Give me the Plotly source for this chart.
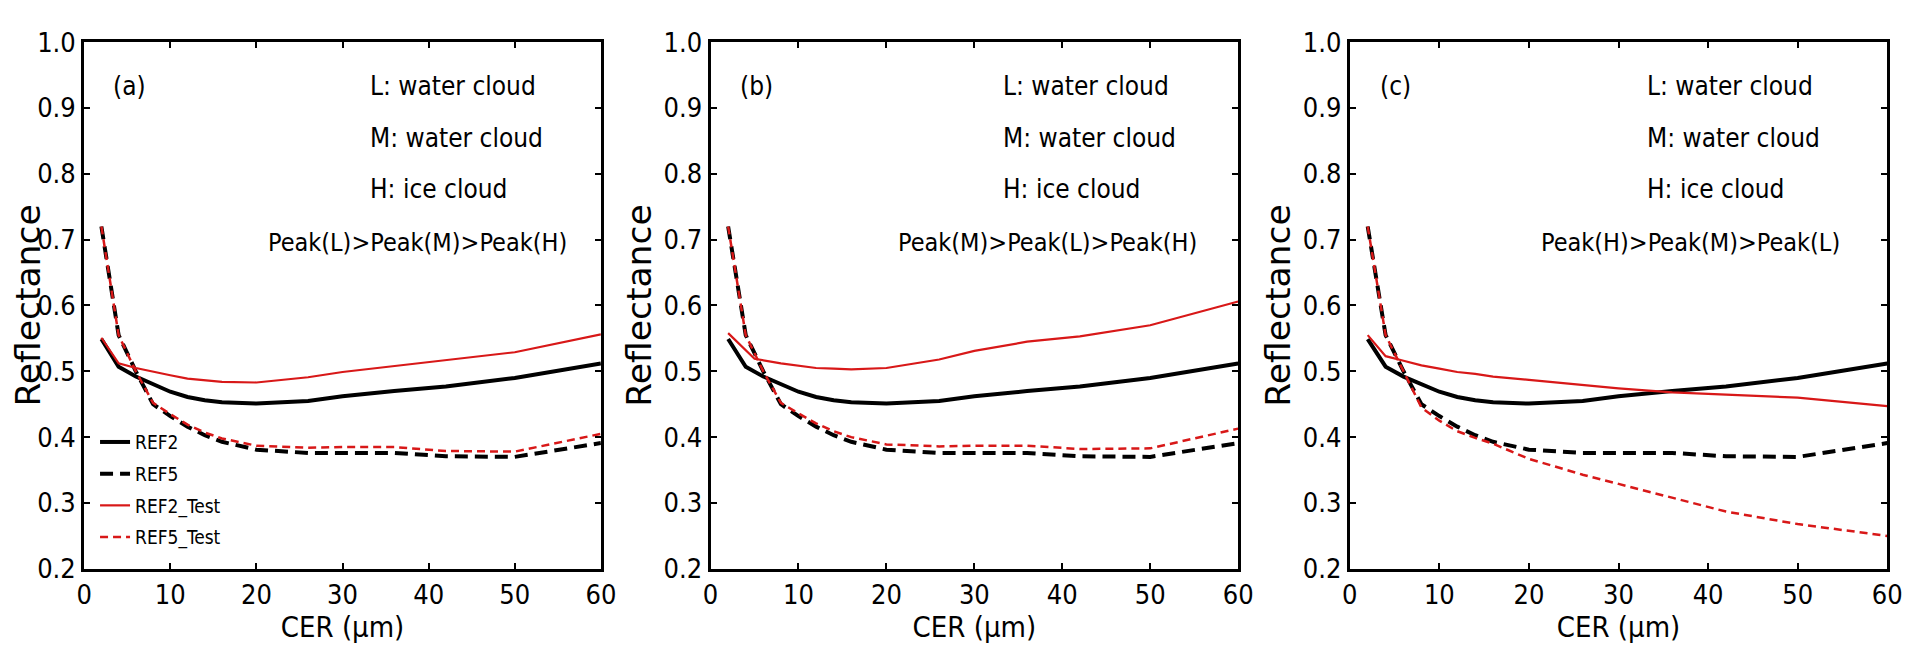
import plotly.graph_objects as go

# ---------------- data ----------------
CER = [2, 4, 6, 8, 10, 12, 14, 16, 20, 26, 30, 36, 42, 50, 60]
CER_B_TEST2 = [2, 5, 8, 10, 12, 14, 16, 20, 26, 30, 36, 42, 50, 60]

REF2 = [0.549, 0.507, 0.492, 0.480, 0.469, 0.461, 0.456, 0.453, 0.451,
        0.455, 0.462, 0.470, 0.477, 0.490, 0.512]
REF5 = [0.720, 0.555, 0.500, 0.450, 0.432, 0.416, 0.403, 0.393, 0.381,
        0.376, 0.376, 0.376, 0.371, 0.370, 0.391]

A_REF2_TEST = [0.551, 0.512, 0.505, 0.499, 0.494, 0.489, 0.486, 0.484, 0.483,
               0.491, 0.499, 0.508, 0.517, 0.529, 0.556]
A_REF5_TEST = [0.720, 0.555, 0.500, 0.452, 0.435, 0.419, 0.407, 0.398, 0.387,
               0.384, 0.385, 0.385, 0.379, 0.378, 0.405]

B_REF2_TEST = [0.558, 0.519, 0.512, 0.508, 0.505, 0.504, 0.503, 0.505,
               0.518, 0.531, 0.545, 0.553, 0.570, 0.606]
B_REF5_TEST = [0.720, 0.555, 0.500, 0.452, 0.436, 0.421, 0.409, 0.400, 0.389,
               0.386, 0.387, 0.387, 0.382, 0.383, 0.413]

C_REF2_TEST = [0.555, 0.523, 0.516, 0.509, 0.504, 0.499, 0.496, 0.492, 0.487,
               0.479, 0.474, 0.468, 0.465, 0.460, 0.447]
C_REF5_TEST = [0.720, 0.555, 0.500, 0.445, 0.425, 0.409, 0.399, 0.390, 0.367,
               0.343, 0.329, 0.308, 0.287, 0.268, 0.250]

PANEL_LABELS = ["(a)", "(b)", "(c)"]
CLOUD_LINES = ["L: water cloud", "M: water cloud", "H: ice cloud"]
PEAK_LINES = ["Peak(L)>Peak(M)>Peak(H)", "Peak(M)>Peak(L)>Peak(H)",
              "Peak(H)>Peak(M)>Peak(L)"]
SERIES_NAMES = ["REF2", "REF5", "REF2_Test", "REF5_Test"]

X_TICKS = [0, 10, 20, 30, 40, 50, 60]
Y_TICKS = [0.2, 0.3, 0.4, 0.5, 0.6, 0.7, 0.8, 0.9, 1.0]

# ---------------- styling ----------------
W, H = 1914, 653
COND = "DejaVu Sans Condensed, DejaVu Sans, sans-serif"
RED = "#d81818"
BLACK = "#000000"

x_domains = [(69 / W, 592 / W), (703 / W, 1237 / W), (1350 / W, 1894 / W)]
y_domain = (1 - 572 / H, 1 - 19 / H)

panels = [
    (CER, A_REF2_TEST, CER, A_REF5_TEST),
    (CER_B_TEST2, B_REF2_TEST, CER, B_REF5_TEST),
    (CER, C_REF2_TEST, CER, C_REF5_TEST),
]

styles = [
    dict(color=BLACK, width=4),
    dict(color=BLACK, width=4, dash="13px,7px"),
    dict(color=RED, width=2.2),
    dict(color=RED, width=2.5, dash="8px,5px"),
]

fig = go.Figure()

for i, (xt2, t2, xt5, t5) in enumerate(panels):
    n = "" if i == 0 else str(i + 1)
    xa, ya = "x" + n, "y" + n
    show = i == 0
    series = [(CER, REF2), (CER, REF5), (xt2, t2), (xt5, t5)]
    for k, (xs, ys) in enumerate(series):
        fig.add_trace(go.Scatter(x=xs, y=ys, mode="lines", name=SERIES_NAMES[k],
                                 line=styles[k], xaxis=xa, yaxis=ya,
                                 legendgroup=SERIES_NAMES[k], showlegend=show))

    axis_common = dict(showline=True, linecolor=BLACK, linewidth=3, mirror="ticks",
                       ticks="inside", ticklen=6, tickwidth=1.5, tickcolor=BLACK,
                       showgrid=False, zeroline=False,
                       tickfont=dict(family=COND, size=27, color=BLACK))
    fig.layout["xaxis" + n] = dict(
        axis_common, domain=list(x_domains[i]), range=[0, 60], tickvals=X_TICKS,
        anchor=ya,
        title=dict(text="CER (μm)", font=dict(family=COND, size=29, color=BLACK),
                   standoff=6))
    fig.layout["yaxis" + n] = dict(
        axis_common, domain=list(y_domain), range=[0.2, 1.0], tickvals=Y_TICKS,
        tickformat=".1f", anchor=xa,
        title=dict(text="Reflectance",
                   font=dict(family="DejaVu Sans, sans-serif", size=34.5, color=BLACK),
                   standoff=2))

    fig.add_annotation(x=3.1, y=0.934, xref=xa, yref=ya, text=PANEL_LABELS[i],
                       showarrow=False, xanchor="left", yanchor="middle",
                       font=dict(family=COND, size=26, color=BLACK))
    for txt, yy in zip(CLOUD_LINES, [0.934, 0.855, 0.777]):
        fig.add_annotation(x=33.0, y=yy, xref=xa, yref=ya, text=txt,
                           showarrow=False, xanchor="left", yanchor="middle",
                           font=dict(family=COND, size=26, color=BLACK))
    fig.add_annotation(x=21.1, y=0.696, xref=xa, yref=ya, text=PEAK_LINES[i],
                       showarrow=False, xanchor="left", yanchor="middle",
                       font=dict(family=COND, size=25, color=BLACK))

fig.update_layout(
    width=W, height=H, autosize=False,
    margin=dict(l=0, r=0, t=0, b=0),
    paper_bgcolor="white", plot_bgcolor="white",
    legend=dict(x=80 / W, y=1 - 419 / H, xanchor="left", yanchor="top",
                bgcolor="rgba(0,0,0,0)", borderwidth=0, tracegroupgap=4,
                font=dict(family=COND, size=19, color=BLACK)),
    font=dict(family=COND, color=BLACK),
)

fig.write_html("out.html")
